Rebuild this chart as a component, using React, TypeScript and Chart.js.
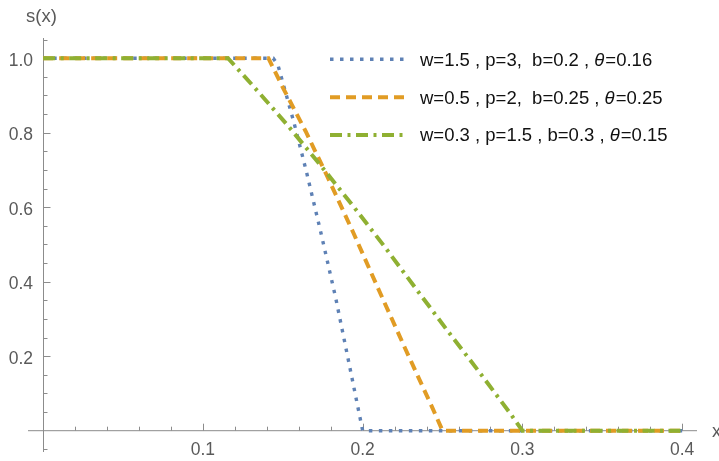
import React, { useEffect, useRef } from "react";
import { Chart, registerables } from "chart.js";

Chart.register(...registerables);

// ---------- data ----------
const seriesNames = ["blue", "orange", "green"];

const blueX = [0, 0.144, 0.147, 0.157, 0.1647, 0.1734, 0.1831, 0.1906, 0.2, 0.4];
const blueY = [1, 1, 0.981, 0.827, 0.697, 0.54, 0.357, 0.199, 0, 0];

const orangeX = [0, 0.141, 0.1503, 0.1643, 0.1775, 0.1941, 0.2104, 0.2269, 0.2436, 0.25, 0.4];
const orangeY = [1, 1, 0.919, 0.804, 0.686, 0.532, 0.375, 0.218, 0.062, 0, 0];

const greenX = [0, 0.1157, 0.1309, 0.1524, 0.1726, 0.1933, 0.2132, 0.2327, 0.2523, 0.2722, 0.2916, 0.3, 0.4];
const greenY = [1, 1, 0.928, 0.823, 0.718, 0.607, 0.497, 0.385, 0.273, 0.162, 0.051, 0, 0];

const legendPrefix = ["w=1.5 , p=3,  b=0.2 , ", "w=0.5 , p=2,  b=0.25 , ", "w=0.3 , p=1.5 , b=0.3 , "];
const legendThetaValue = ["=0.16", "=0.25", "=0.15"];

const xMajorTicks = [0.1, 0.2, 0.3, 0.4];
const xTickLabels = ["0.1", "0.2", "0.3", "0.4"];
const xMinorTicks = [0.02, 0.04, 0.06, 0.08, 0.12, 0.14, 0.16, 0.18, 0.22, 0.24, 0.26, 0.28, 0.32, 0.34, 0.36, 0.38];

const yMajorTicks = [0.2, 0.4, 0.6, 0.8, 1.0];
const yTickLabels = ["0.2", "0.4", "0.6", "0.8", "1.0"];
const yMinorTicks = [-0.05, 0.05, 0.1, 0.15, 0.25, 0.3, 0.35, 0.45, 0.5, 0.55, 0.65, 0.7, 0.75, 0.85, 0.9, 0.95, 1.05];

const xAxisTitle = "x";
const yAxisTitle = "s(x)";

// ---------- styles ----------
const COLORS = ["#5E81B5", "#E19C24", "#8FB032"];
const WIDTHS = [3.4, 4, 4];
const DASHES = [
  [3.5, 6.5],
  [10, 6],
  [12, 5.5, 3, 5.5],
];
const AXIS_COLOR = "#8c8c8c";
const LABEL_COLOR = "#5a5a5a";
const FONT = "'Liberation Sans', Arial, sans-serif";

const axesPlugin = {
  id: "mmaAxes",
  beforeDatasetsDraw(chart: any) {
    const { ctx, chartArea } = chart;
    const xs = chart.scales.x;
    const ys = chart.scales.y;
    const x0 = Math.round(xs.getPixelForValue(0)) + 0.5;
    const y0 = ys.getPixelForValue(0);
    ctx.save();
    ctx.strokeStyle = AXIS_COLOR;
    ctx.lineWidth = 1;
    ctx.beginPath();
    ctx.moveTo(chartArea.left, y0);
    ctx.lineTo(chartArea.right, y0);
    ctx.moveTo(x0, chartArea.top);
    ctx.lineTo(x0, chartArea.bottom);
    xMajorTicks.forEach((v) => {
      const px = Math.round(xs.getPixelForValue(v)) + 0.5;
      ctx.moveTo(px, y0);
      ctx.lineTo(px, y0 - 7);
    });
    xMinorTicks.forEach((v) => {
      const px = Math.round(xs.getPixelForValue(v)) + 0.5;
      ctx.moveTo(px, y0);
      ctx.lineTo(px, y0 - 4);
    });
    yMajorTicks.forEach((v) => {
      const py = Math.round(ys.getPixelForValue(v)) + 0.5;
      ctx.moveTo(x0, py);
      ctx.lineTo(x0 + 7, py);
    });
    yMinorTicks.forEach((v) => {
      const py = Math.round(ys.getPixelForValue(v)) + 0.5;
      ctx.moveTo(x0, py);
      ctx.lineTo(x0 + 4, py);
    });
    ctx.stroke();

    ctx.fillStyle = LABEL_COLOR;
    ctx.font = `17.5px ${FONT}`;
    ctx.textBaseline = "alphabetic";
    ctx.textAlign = "center";
    xMajorTicks.forEach((v, i) => {
      ctx.fillText(xTickLabels[i], xs.getPixelForValue(v), y0 + 24.3);
    });
    ctx.textAlign = "right";
    yMajorTicks.forEach((v, i) => {
      ctx.fillText(yTickLabels[i], x0 - 10.5, ys.getPixelForValue(v) + 7.5);
    });

    ctx.font = `18.5px ${FONT}`;
    ctx.textAlign = "center";
    ctx.fillText(yAxisTitle, x0 - 2, 22);
    ctx.textAlign = "left";
    ctx.fillText(xAxisTitle, 712, y0 + 6.5);
    ctx.restore();
  },
  afterDraw(chart: any) {
    const { ctx } = chart;
    ctx.save();
    const rowY = [59.3, 97.2, 135.1];
    seriesNames.forEach((_, i) => {
      const y = rowY[i];
      ctx.strokeStyle = COLORS[i];
      ctx.lineWidth = WIDTHS[i];
      ctx.lineCap = "butt";
      ctx.setLineDash(DASHES[i]);
      ctx.beginPath();
      ctx.moveTo(330, y);
      ctx.lineTo(404, y);
      ctx.stroke();
      ctx.setLineDash([]);
      ctx.fillStyle = "#111";
      ctx.textBaseline = "alphabetic";
      ctx.textAlign = "left";
      ctx.font = `18.5px ${FONT}`;
      let tx = 420;
      const base = y + 6.3;
      ctx.fillText(legendPrefix[i], tx, base);
      tx += ctx.measureText(legendPrefix[i]).width;
      ctx.font = `italic 18.5px ${FONT}`;
      ctx.fillText("θ", tx, base);
      tx += ctx.measureText("θ").width + 1;
      ctx.font = `18.5px ${FONT}`;
      ctx.fillText(legendThetaValue[i], tx, base);
    });
    ctx.restore();
  },
};

export default function App() {
  const ref = useRef<HTMLCanvasElement | null>(null);
  useEffect(() => {
    if (!ref.current) return;
    const xsArr = [blueX, orangeX, greenX];
    const ysArr = [blueY, orangeY, greenY];
    const datasets = seriesNames.map((name, i) => ({
      label: name,
      data: xsArr[i].map((x, j) => ({ x, y: ysArr[i][j] })),
      borderColor: COLORS[i],
      borderWidth: WIDTHS[i],
      borderDash: DASHES[i],
      borderCapStyle: "butt" as const,
      pointRadius: 0,
      tension: 0,
      fill: false,
      order: 3 - i,
    }));
    const chart = new Chart(ref.current, {
      type: "line",
      data: { datasets },
      options: {
        animation: false,
        responsive: false,
        events: [],
        layout: { padding: { left: 28, right: 22, top: 38, bottom: 9 } },
        plugins: { legend: { display: false }, tooltip: { enabled: false } },
        scales: {
          x: { type: "linear", display: false, min: -0.0095, max: 0.4093 },
          y: { type: "linear", display: false, min: -0.0572, max: 1.0542 },
        },
      },
      plugins: [axesPlugin],
    });
    return () => chart.destroy();
  }, []);
  return (
    <div style={{ position: "absolute", left: 0, top: 0, width: 719, height: 461, background: "#fff" }}>
      <canvas ref={ref} width={719} height={461} style={{ display: "block" }} />
    </div>
  );
}
